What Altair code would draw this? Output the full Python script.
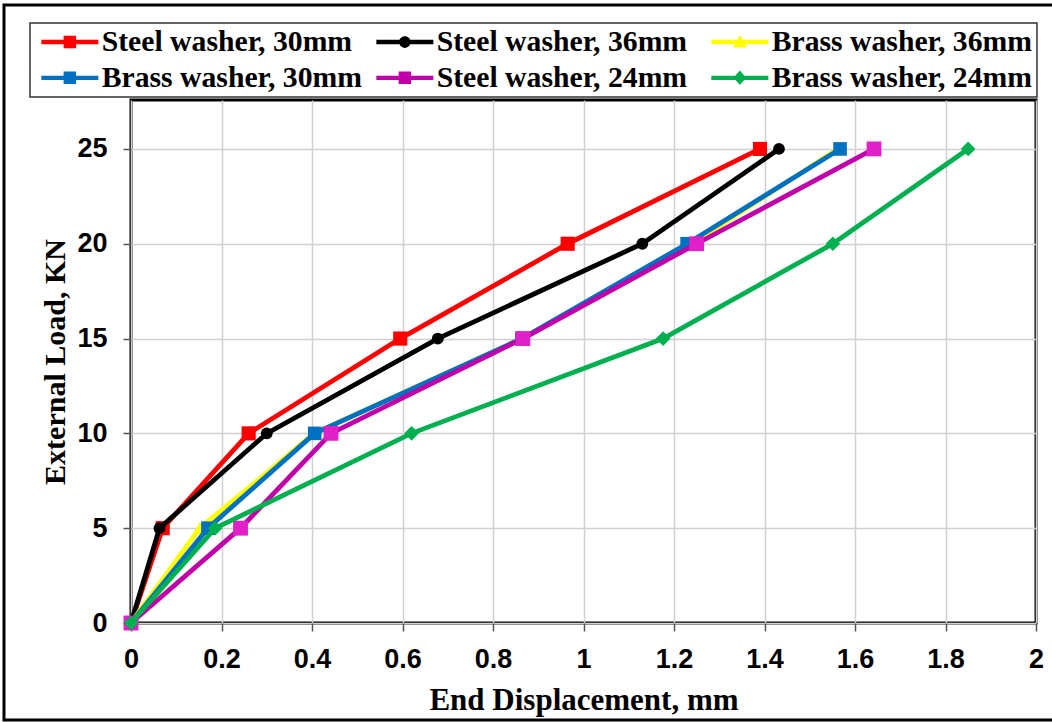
import altair as alt
import pandas as pd

# Load steps applied to every specimen (kN)
load_kn = [0, 5, 10, 15, 20, 25]

series_names = [
    "Steel washer, 30mm",
    "Steel washer, 36mm",
    "Brass washer, 36mm",
    "Brass washer, 30mm",
    "Steel washer, 24mm",
    "Brass washer, 24mm",
]

# End displacement (mm) measured at each load step
steel_30 = [0, 0.070, 0.260, 0.595, 0.965, 1.390]
steel_36 = [0, 0.063, 0.300, 0.678, 1.130, 1.432]
brass_36 = [0, 0.152, 0.405, 0.864, 1.240, 1.562]
brass_30 = [0, 0.170, 0.406, 0.864, 1.229, 1.567]
steel_24 = [0, 0.242, 0.442, 0.866, 1.250, 1.642]
brass_24 = [0, 0.186, 0.620, 1.176, 1.551, 1.850]

displacements = [steel_30, steel_36, brass_36, brass_30, steel_24, brass_24]

line_colors = ["#FF0000", "#000000", "#FFFF00", "#0070C0", "#C000A8", "#00B050"]
marker_colors = ["#FF0000", "#000000", "#FFFF00", "#0070C0", "#E020C8", "#00B050"]
marker_shapes = ["square", "circle", "triangle-up", "square", "square", "diamond"]
marker_sizes = [200, 140, 210, 185, 220, 215]

rows = []
for name, disp in zip(series_names, displacements):
    for d, f in zip(disp, load_kn):
        rows.append({"series": name, "disp": d, "load": f})
df = pd.DataFrame(rows)

# Legend glyphs: a line segment with the series marker on it
# (path units are half the square root of the legend symbol size)
BAR = "M-1.966,-0.152H1.966V0.152H-1.966Z"
SQUARE = "M-0.43,-0.43H0.43V0.43H-0.43Z"
CIRCLE = "M-0.4,0A0.4,0.4,0,1,1,0.4,0A0.4,0.4,0,1,1,-0.4,0Z"
TRIANGLE = "M0,-0.48L0.48,0.38L-0.48,0.38Z"
DIAMOND = "M0,-0.5L0.44,0L0,0.5L-0.44,0Z"
legend_glyphs = [BAR + SQUARE, BAR + CIRCLE, BAR + TRIANGLE,
                 BAR + SQUARE, BAR + SQUARE, BAR + DIAMOND]

legend = alt.Legend(
    title=None,
    orient="none",
    direction="horizontal",
    legendX=-101,
    legendY=-77,
    columns=3,
    gridAlign="all",
    columnPadding=6,
    rowPadding=5,
    fillColor="white",
    symbolSize=841,
    symbolOffset=21,
    symbolStrokeWidth=0,
    symbolOpacity=1,
    labelOffset=17,
    labelLimit=400,
    labelFont="Liberation Serif",
    labelFontSize=29.7,
    labelFontWeight="bold",
    labelColor="black",
)

x_enc = alt.X(
    "disp:Q",
    scale=alt.Scale(domain=[0, 2], nice=False),
    axis=alt.Axis(
        values=[0, 0.2, 0.4, 0.6, 0.8, 1, 1.2, 1.4, 1.6, 1.8, 2],
        format="~g",
        title="End Displacement, mm",
        titlePadding=13,
        labelPadding=15,
        labelFlush=False,
    ),
)
y_enc = alt.Y(
    "load:Q",
    scale=alt.Scale(domain=[0, 27.58], nice=False),
    axis=alt.Axis(
        values=[0, 5, 10, 15, 20, 25],
        format="d",
        title="External Load, KN",
        titlePadding=6,
        labelPadding=16,
        labelFlush=False,
    ),
)

# Outer frame around the whole figure
frame = alt.Chart(alt.Data(values=[{}])).mark_rect(
    fill=None, stroke="black", strokeWidth=3
).encode(
    x=alt.value(-127), x2=alt.value(940), y=alt.value(-95), y2=alt.value(620)
)

# Legend-only layer: no rows survive the filter, the legend comes from the scales
legend_layer = alt.Chart(df).transform_filter("false").mark_point(
    filled=True, strokeWidth=0
).encode(
    x=x_enc,
    y=y_enc,
    color=alt.Color("series:N", scale=alt.Scale(domain=series_names, range=line_colors), legend=legend),
    shape=alt.Shape("series:N", scale=alt.Scale(domain=series_names, range=legend_glyphs), legend=legend),
)

layers = [frame]
for name, lc, mc, shp, sz in zip(series_names, line_colors, marker_colors, marker_shapes, marker_sizes):
    base = alt.Chart(df).transform_filter(alt.datum.series == name)
    line = base.mark_line(strokeWidth=4.8, color=lc).encode(x=x_enc, y=y_enc)
    pts = base.mark_point(filled=True, opacity=1, strokeWidth=0, fill=mc, shape=shp, size=sz).encode(
        x=x_enc, y=y_enc
    )
    layers += [line, pts]
layers.append(legend_layer)

chart = alt.layer(*layers).properties(
    width=905,
    height=523,
    autosize=alt.AutoSizeParams(type="none"),
    padding={"left": 131, "top": 100, "right": 16, "bottom": 99},
    background="white",
).configure_view(
    stroke="black", strokeWidth=3
).configure_legend(
    strokeColor="#333333",
    strokeWidth=1.5,
    padding=4,
).configure_axis(
    grid=True,
    gridColor="#d0d0d0",
    gridWidth=1.5,
    domain=False,
    tickSize=8,
    tickColor="#555555",
    tickWidth=1.5,
    labelFont="Liberation Sans",
    labelFontSize=27,
    labelFontWeight="bold",
    labelColor="black",
    titleFont="Liberation Serif",
    titleFontWeight="bold",
    titleColor="black",
).configure_axisX(
    titleFontSize=31
).configure_axisY(
    titleFontSize=30
)

chart.save("out.html", embed_options={"renderer": "svg", "actions": False})
